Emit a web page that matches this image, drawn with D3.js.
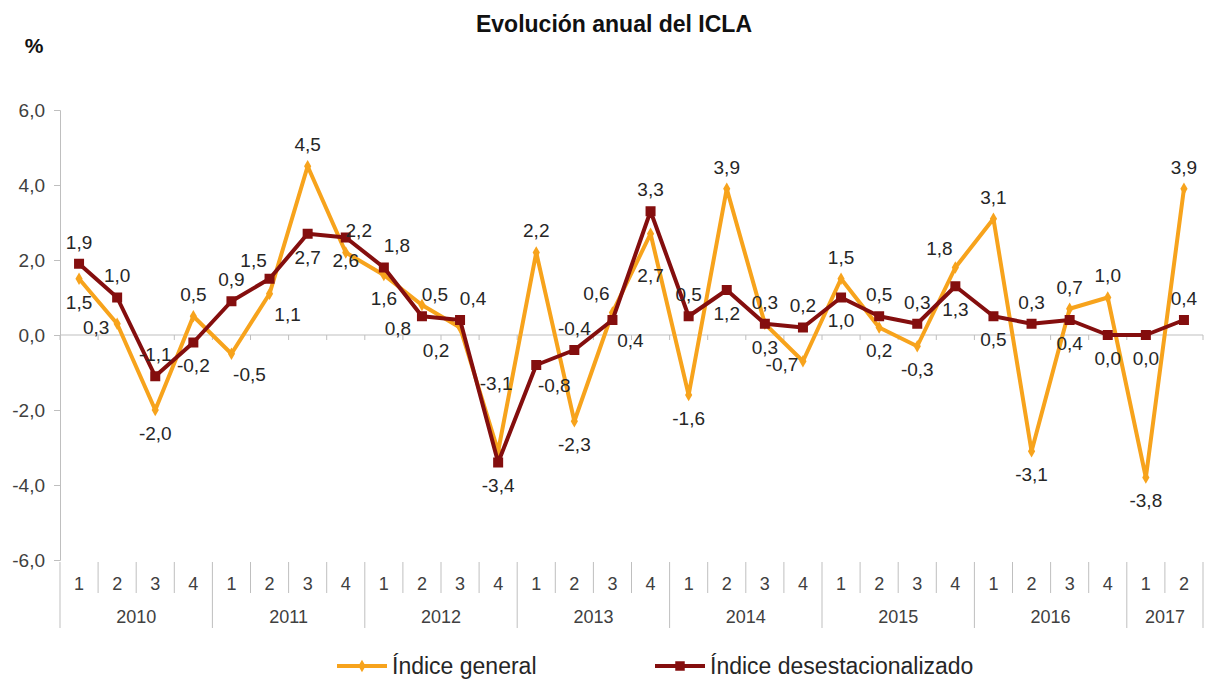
<!DOCTYPE html>
<html>
<head>
<meta charset="UTF-8">
<title>Evolución anual del ICLA</title>
<script src="https://cdn.jsdelivr.net/npm/d3@7"></script>
<style>
body { margin: 0; background: #fff; }
text { font-family: "Liberation Sans", Arial, sans-serif; }
</style>
</head>
<body>
<svg class="chart" width="1207" height="679"></svg>

<script>
// data
var years = ["2010", "2011", "2012", "2013", "2014", "2015", "2016", "2017"];
var quartersPerYear = [4, 4, 4, 4, 4, 4, 4, 2];
var general = [1.5, 0.3, -2.0, 0.5, -0.5, 1.1, 4.5, 2.2, 1.6, 0.8, 0.2, -3.1,
               2.2, -2.3, 0.6, 2.7, -1.6, 3.9, 0.3, -0.7, 1.5, 0.2, -0.3, 1.8,
               3.1, -3.1, 0.7, 1.0, -3.8, 3.9];
var desest = [1.9, 1.0, -1.1, -0.2, 0.9, 1.5, 2.7, 2.6, 1.8, 0.5, 0.4, -3.4,
              -0.8, -0.4, 0.4, 3.3, 0.5, 1.2, 0.3, 0.2, 1.0, 0.5, 0.3, 1.3,
              0.5, 0.3, 0.4, 0.0, 0.0, 0.4];
var yTicks = [-6, -4, -2, 0, 2, 4, 6];
var seriesNames = ["Índice general", "Índice desestacionalizado"];

// label placement per point (like excel's label position setting)
var generalPos = ["b","l","b","t","br","br","t","tr","b","bl","bl","T",
                  "t","b","tl","B","b","t","b","l","t","b","b","tl",
                  "t","b","t","t","b","t"];
var desestPos = ["t","t","t","b","t","tl","b","b","tr","tr","tr","b",
                 "br","t","br","t","t","b","t","t","b","t","t","b",
                 "b","t","b","b","b","t"];

var orange = "#F7A31C";
var darkRed = "#840E0E";
var axisGrey = "#BFBFBF";
var textCol = "#262626";

// build categories
var cats = [];
var qLabels = [];
years.forEach(function(yr, i){
	for(var q = 1; q <= quartersPerYear[i]; q++){
		cats.push(yr + "-" + q);
		qLabels.push(String(q));
	}
});

function fmt(v){
	return (v < 0 ? "-" : "") + Math.abs(v).toFixed(1).replace(".", ",");
}

var svg = d3.select(".chart");

var xChart = d3.scaleBand().domain(cats).range([60, 1203]);
var yChart = d3.scaleLinear().domain([-6, 6]).range([560, 110]);
var cx = function(i){ return xChart(cats[i]) + xChart.bandwidth() / 2; };

// title and unit
svg.append("text")
	.attr("x", 614).attr("y", 32)
	.attr("text-anchor", "middle")
	.style("font-size", "23px").style("font-weight", "bold")
	.attr("fill", "#111")
	.text("Evolución anual del ICLA");

svg.append("text")
	.attr("x", 34).attr("y", 53)
	.attr("text-anchor", "middle")
	.style("font-size", "21px").style("font-weight", "bold")
	.attr("fill", "#111")
	.text("%");

// left axis
var yAxis = d3.axisLeft(yChart).tickValues(yTicks).tickSize(6).tickPadding(9).tickFormat(fmt);
var yg = svg.append("g")
	.attr("class", "y axis")
	.attr("transform", "translate(60,0)")
	.call(yAxis);
yg.select(".domain").attr("stroke", axisGrey);
yg.selectAll(".tick line").attr("stroke", axisGrey);
yg.selectAll(".tick text")
	.style("font-size", "19px")
	.attr("fill", "#404040");

// zero line with ticks at category boundaries
var x0 = xChart.range()[0], step = xChart.step();
svg.append("line")
	.attr("x1", x0).attr("x2", xChart.range()[1])
	.attr("y1", yChart(0)).attr("y2", yChart(0))
	.attr("stroke", axisGrey);
svg.append("g").selectAll("line")
	.data(d3.range(cats.length + 1))
	.enter().append("line")
	.attr("x1", function(k){ return x0 + k * step; })
	.attr("x2", function(k){ return x0 + k * step; })
	.attr("y1", yChart(0)).attr("y2", yChart(0) + 5)
	.attr("stroke", axisGrey);

// category axis at bottom: quarter / year
var yearStarts = [0];
quartersPerYear.forEach(function(n, i){ yearStarts.push(yearStarts[i] + n); });

svg.append("g").selectAll("line")
	.data(d3.range(cats.length + 1))
	.enter().append("line")
	.attr("x1", function(k){ return x0 + k * step; })
	.attr("x2", function(k){ return x0 + k * step; })
	.attr("y1", 562)
	.attr("y2", function(k){ return yearStarts.indexOf(k) >= 0 ? 628 : 593; })
	.attr("stroke", axisGrey);

svg.append("g").selectAll("text")
	.data(qLabels)
	.enter().append("text")
	.attr("x", function(d, i){ return cx(i); })
	.attr("y", 590)
	.attr("text-anchor", "middle")
	.style("font-size", "18px")
	.attr("fill", "#404040")
	.text(function(d){ return d; });

svg.append("g").selectAll("text")
	.data(years)
	.enter().append("text")
	.attr("x", function(d, i){ return x0 + (yearStarts[i] + quartersPerYear[i] / 2) * step; })
	.attr("y", 623)
	.attr("text-anchor", "middle")
	.style("font-size", "18px")
	.attr("fill", "#404040")
	.text(function(d){ return d; });

// lines
var line = d3.line()
	.x(function(d, i){ return cx(i); })
	.y(function(d){ return yChart(d); });

svg.append("path").datum(general)
	.attr("fill", "none").attr("stroke", orange)
	.attr("stroke-width", 4).attr("stroke-linejoin", "round")
	.attr("d", line);

svg.append("g").selectAll("path")
	.data(general)
	.enter().append("path")
	.attr("transform", function(d, i){ return "translate(" + cx(i) + "," + yChart(d) + ")"; })
	.attr("d", d3.symbol().type(d3.symbolDiamond).size(45))
	.attr("fill", orange);

svg.append("path").datum(desest)
	.attr("fill", "none").attr("stroke", darkRed)
	.attr("stroke-width", 4).attr("stroke-linejoin", "round")
	.attr("d", line);

svg.append("g").selectAll("rect")
	.data(desest)
	.enter().append("rect")
	.attr("x", function(d, i){ return cx(i) - 5; })
	.attr("y", function(d){ return yChart(d) - 5; })
	.attr("width", 10).attr("height", 10)
	.attr("fill", darkRed);

// data labels
var offsets = {
	t: [0, -22], b: [0, 23], l: [-21, 3], r: [21, 0],
	tl: [-16, -19], tr: [13, -22], bl: [-24, 23], br: [18, 20],
	T: [-2, -68], B: [0, 41]
};

function addLabels(values, pos){
	svg.append("g").selectAll("text")
		.data(values)
		.enter().append("text")
		.attr("x", function(d, i){ return cx(i) + offsets[pos[i]][0]; })
		.attr("y", function(d, i){ return yChart(d) + offsets[pos[i]][1]; })
		.attr("dy", "0.36em")
		.attr("text-anchor", "middle")
		.style("font-size", "19px")
		.attr("fill", textCol)
		.text(fmt);
}
addLabels(general, generalPos);
addLabels(desest, desestPos);

// legend
var legend = [
	{ name: seriesNames[0], color: orange, x: 337, marker: "diamond" },
	{ name: seriesNames[1], color: darkRed, x: 655, marker: "square" }
];
var lg = svg.append("g").selectAll("g")
	.data(legend)
	.enter().append("g")
	.attr("transform", function(d){ return "translate(" + d.x + ",666)"; });
lg.append("line")
	.attr("x1", 0).attr("x2", 50)
	.attr("stroke", function(d){ return d.color; })
	.attr("stroke-width", 4);
lg.append("path")
	.attr("transform", "translate(25,0)")
	.attr("d", function(d){
		return d3.symbol().type(d.marker === "diamond" ? d3.symbolDiamond : d3.symbolSquare)
			.size(d.marker === "diamond" ? 45 : 90)();
	})
	.attr("fill", function(d){ return d.color; });
lg.append("text")
	.attr("x", 55).attr("y", 0)
	.attr("dy", "0.33em")
	.style("font-size", "23px")
	.attr("fill", textCol)
	.text(function(d){ return d.name; });
</script>
</body>
</html>
